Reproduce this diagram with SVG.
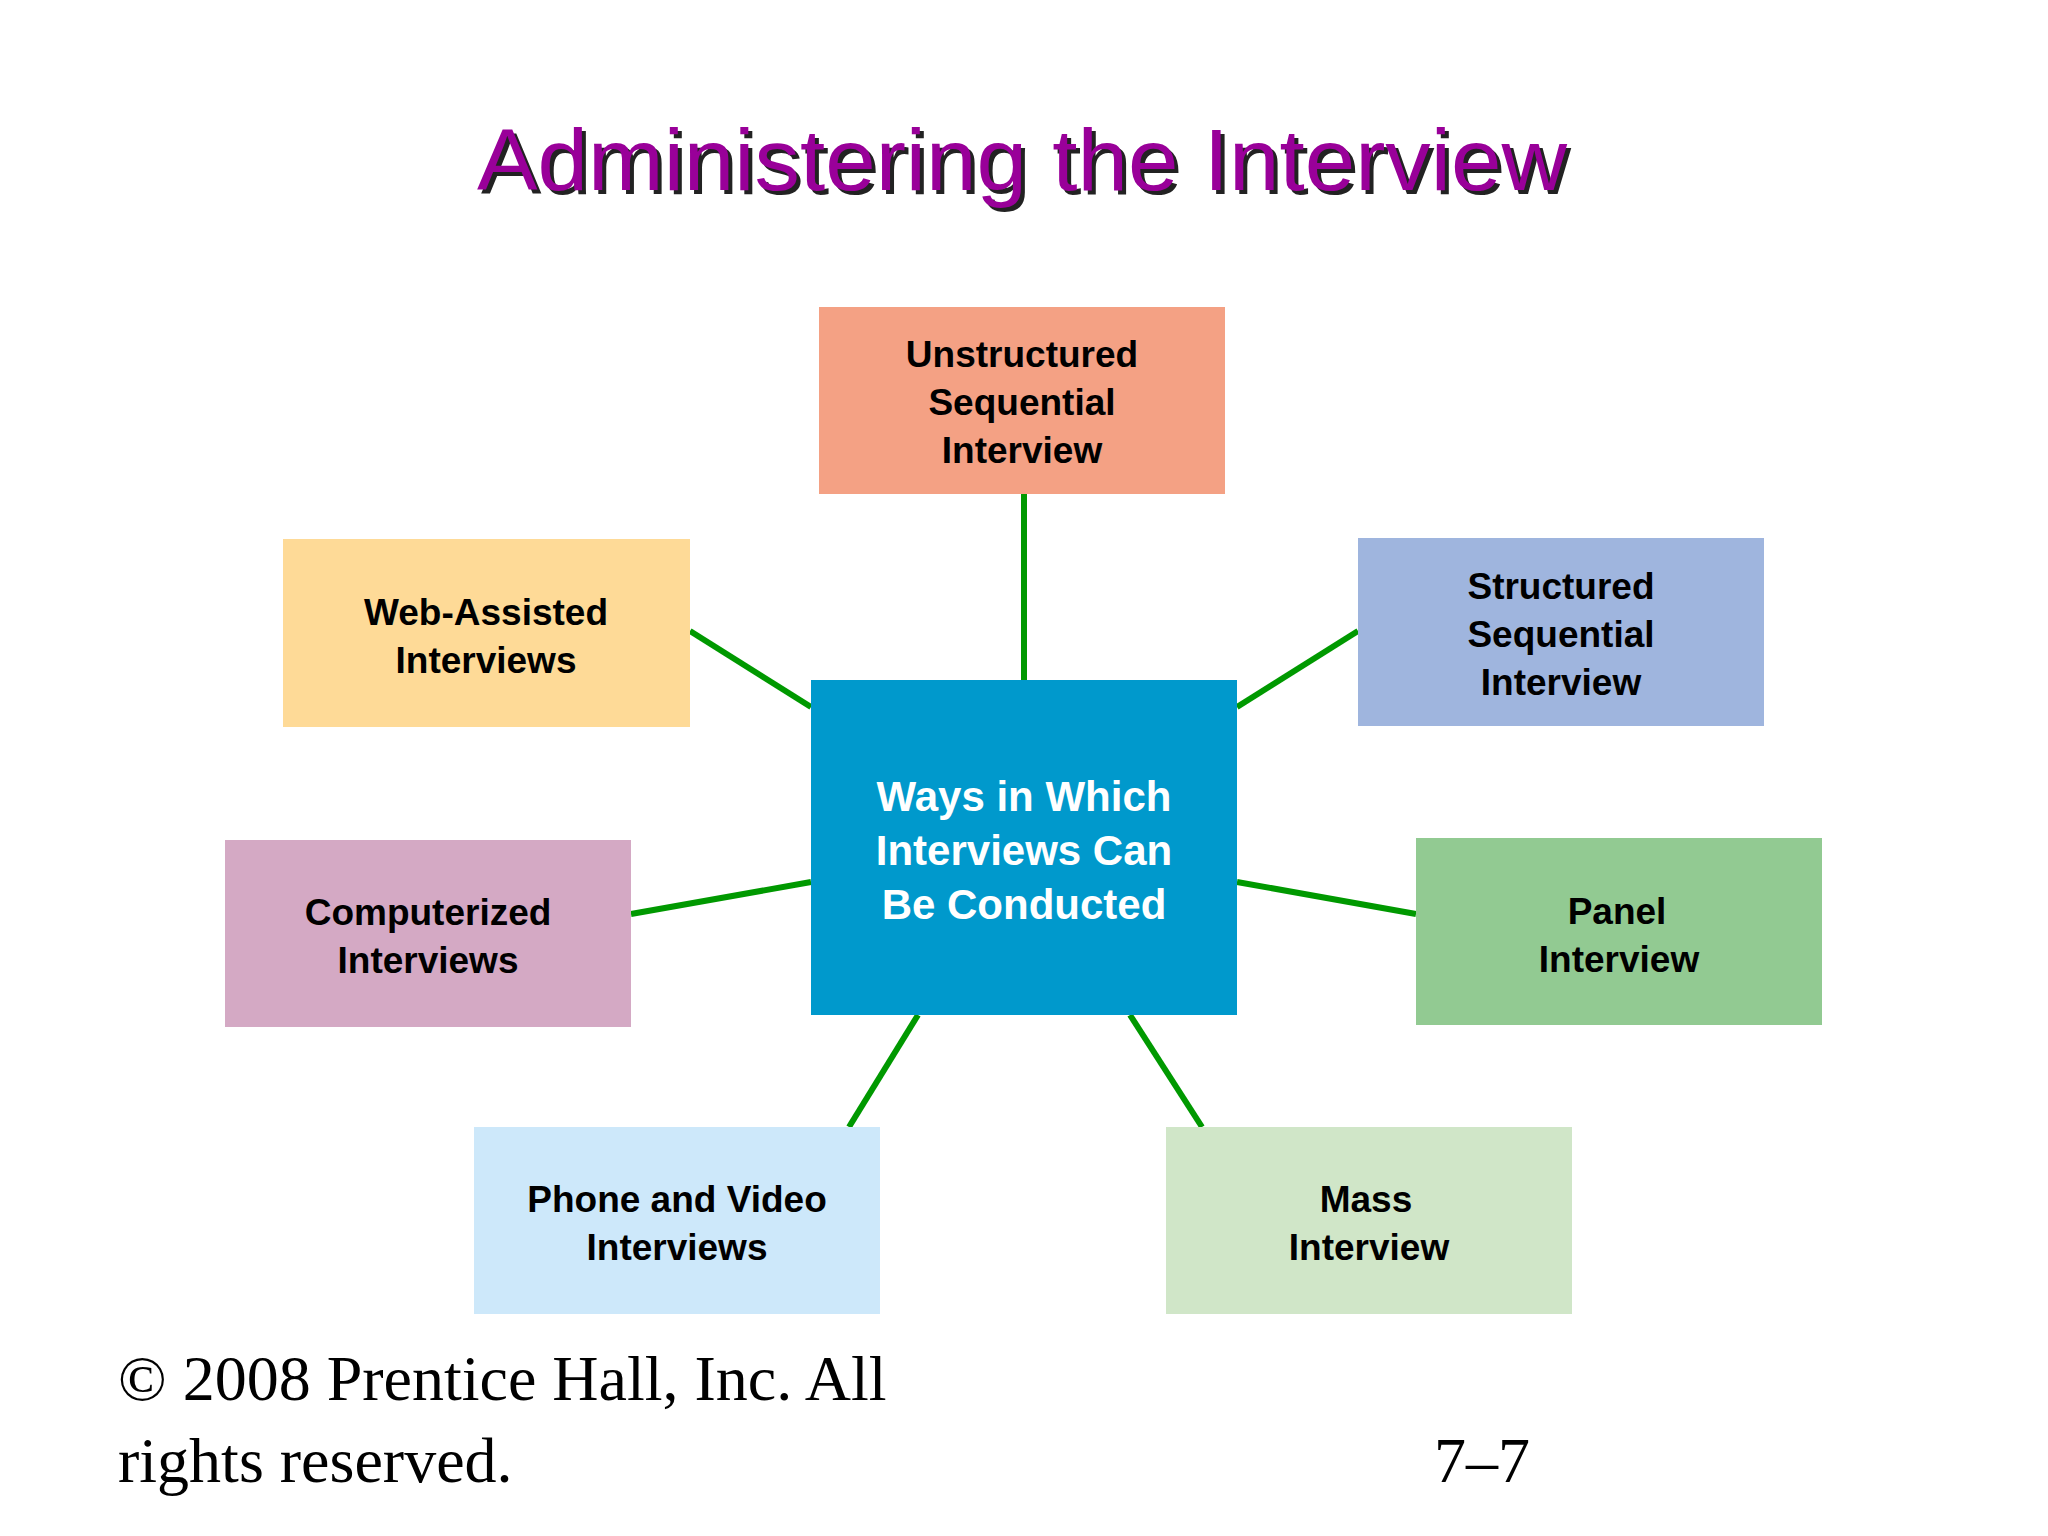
<svg xmlns="http://www.w3.org/2000/svg" width="2048" height="1536" viewBox="0 0 2048 1536">
<style>
.t{font-family:"Liberation Sans",Arial,sans-serif;font-weight:bold;font-size:37px;text-anchor:middle;fill:#000}
.c{font-family:"Liberation Sans",Arial,sans-serif;font-weight:bold;font-size:42px;text-anchor:middle;fill:#fff}
.f{font-family:"Liberation Serif","Times New Roman",serif;font-size:64px;fill:#000}
.ln{stroke:#009900;stroke-width:6;fill:none}
</style>
<rect width="2048" height="1536" fill="#fff"/>
<g id="title" font-family="Liberation Sans,Arial,sans-serif" font-size="88" text-anchor="middle">
<text x="1026" y="194" fill="#222" textLength="1090" lengthAdjust="spacingAndGlyphs">Administering the Interview</text>
<text x="1022" y="190" fill="#990099" textLength="1090" lengthAdjust="spacingAndGlyphs">Administering the Interview</text>
</g>
<g id="connectors">
<line class="ln" x1="1024" y1="494" x2="1024" y2="680"/>
<line class="ln" x1="690" y1="631" x2="811" y2="707"/>
<line class="ln" x1="1237" y1="707" x2="1358" y2="631"/>
<line class="ln" x1="631" y1="914" x2="811" y2="882"/>
<line class="ln" x1="1237" y1="882" x2="1416" y2="914"/>
<line class="ln" x1="918" y1="1015" x2="849" y2="1127"/>
<line class="ln" x1="1130" y1="1015" x2="1202" y2="1127"/>
</g>
<g id="center"><rect x="811" y="680" width="426" height="335" fill="#0099CC"/>
<text class="c" x="1024" y="811">Ways in Which</text><text class="c" x="1024" y="865">Interviews Can</text><text class="c" x="1024" y="919">Be Conducted</text></g>
<g id="unstructured"><rect x="819" y="307" width="406" height="187" fill="#F4A184"/>
<text class="t" x="1022" y="367">Unstructured</text><text class="t" x="1022" y="415">Sequential</text><text class="t" x="1022" y="463">Interview</text></g>
<g id="web"><rect x="283" y="539" width="407" height="188" fill="#FEDA97"/>
<text class="t" x="486" y="625">Web-Assisted</text><text class="t" x="486" y="673">Interviews</text></g>
<g id="structured"><rect x="1358" y="538" width="406" height="188" fill="#9FB5DE"/>
<text class="t" x="1561" y="599">Structured</text><text class="t" x="1561" y="647">Sequential</text><text class="t" x="1561" y="695">Interview</text></g>
<g id="computerized"><rect x="225" y="840" width="406" height="187" fill="#D4A9C4"/>
<text class="t" x="428" y="925">Computerized</text><text class="t" x="428" y="973">Interviews</text></g>
<g id="panel"><rect x="1416" y="838" width="406" height="187" fill="#92CA92"/>
<text class="t" x="1617" y="924">Panel</text><text class="t" x="1619" y="972">Interview</text></g>
<g id="phone"><rect x="474" y="1127" width="406" height="187" fill="#CDE8FA"/>
<text class="t" x="677" y="1212">Phone and Video</text><text class="t" x="677" y="1260">Interviews</text></g>
<g id="mass"><rect x="1166" y="1127" width="406" height="187" fill="#D0E6C8"/>
<text class="t" x="1366" y="1212">Mass</text><text class="t" x="1369" y="1260">Interview</text></g>
<g id="footer">
<text class="f" x="118" y="1400">© 2008 Prentice Hall, Inc. All</text>
<text class="f" x="118" y="1482">rights reserved.</text>
<text class="f" x="1434" y="1482">7–7</text>
</g>
</svg>
